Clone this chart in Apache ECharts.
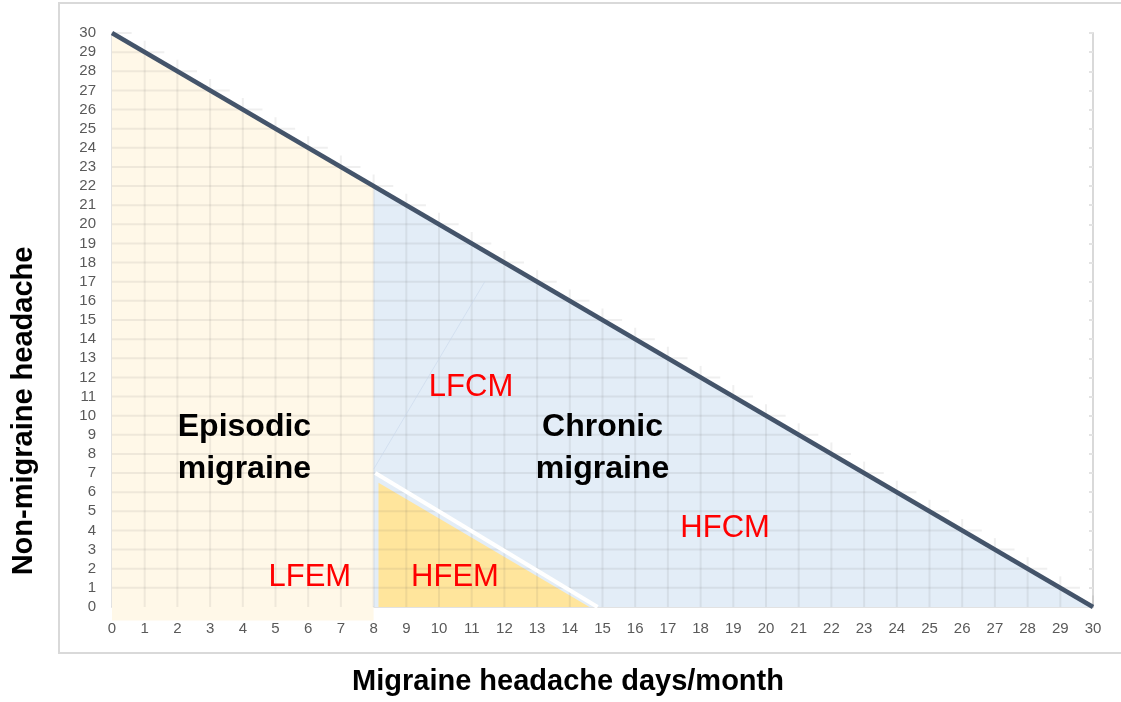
<!DOCTYPE html>
<html>
<head>
<meta charset="utf-8">
<script src="https://cdn.jsdelivr.net/npm/echarts@6/dist/echarts.min.js"></script>
<style>
html,body{margin:0;padding:0;background:#fff;}
#chart{width:1121px;height:702px;}
</style>
</head>
<body>
<div id="chart"></div>
<script>
// ---- data ----
const axisMin = 0;
const axisMax = 30;
const tickStep = 1;
const gridTicks = [0,1,2,3,4,5,6,7,8,9,10,11,12,13,14,15,16,17,18,19,20,21,22,23,24,25,26,27,28,29,30];
const totalDaysLine = [[0, 30], [30, 0]];
const episodicArea = [[0, -0.7], [0, 30], [8, 22], [8, -0.7]];
const chronicArea = [[8, 0], [8, 22], [30, 0]];
const hfemArea = [[8.15, 0], [8.15, 6.5], [14.6, 0]];
const hfemBoundary = [[8.05, 7.0], [14.85, 0]];
const faintDivider = [[8, 7.2], [11.4, 17]];
const regionNames = ['Episodic\nmigraine', 'Chronic\nmigraine'];
const regionPos = [[4.05, 8.3], [15.0, 8.3]];
const subNames = ['LFCM', 'HFCM', 'LFEM', 'HFEM'];
const subPos = [[10.98, 11.5], [18.75, 4.13], [6.05, 1.52], [10.49, 1.52]];
const xTitle = 'Migraine headache days/month';
const yTitle = 'Non-migraine headache';

// ---- helpers ----
function polygonSeries(points, color, z) {
  return {
    type: 'custom', z: z, silent: true, clip: false,
    data: [0],
    renderItem: function (params, api) {
      return {
        type: 'polygon',
        shape: { points: points.map(p => api.coord(p)) },
        style: { fill: color }
      };
    }
  };
}
function segmentSeries(points, color, width, z) {
  return {
    type: 'line', z: z, silent: true, data: points,
    symbol: 'none', lineStyle: { color: color, width: width }, clip: false
  };
}

const gridSeries = {
  type: 'custom', z: 3, silent: true, clip: false,
  data: gridTicks,
  renderItem: function (params, api) {
    const v = api.value(0);
    const reach = Math.min(axisMax, axisMax - v + 0.6);
    const style = { stroke: 'rgba(90,90,90,0.095)', lineWidth: 2 };
    const a = api.coord([v, 0]), b = api.coord([v, reach]);
    const c = api.coord([0, v]), d = api.coord([reach, v]);
    const children = [];
    if (v > 0) children.push({ type: 'line', shape: { x1: a[0], y1: a[1], x2: b[0], y2: b[1] }, style: style });
    if (v > 0) children.push({ type: 'line', shape: { x1: c[0], y1: c[1], x2: d[0], y2: d[1] }, style: style });
    return { type: 'group', children: children };
  }
};

const labelSeries = function (names, pos, style, z) {
  return {
    type: 'custom', z: z, silent: true, clip: false,
    data: pos.map((p, i) => [p[0], p[1], i]),
    renderItem: function (params, api) {
      const pt = api.coord([api.value(0), api.value(1)]);
      return {
        type: 'text', x: pt[0], y: pt[1],
        style: Object.assign({ text: names[api.value(2)], align: 'center', verticalAlign: 'middle' }, style)
      };
    }
  };
};

const chart = echarts.init(document.getElementById('chart'));
const font = '"Liberation Sans", Arial, sans-serif';
chart.setOption({
  animation: false,
  backgroundColor: '#ffffff',
  grid: { left: 112, right: 28, top: 33, bottom: 95 },
  xAxis: {
    type: 'value', min: axisMin, max: axisMax, interval: tickStep,
    axisLine: { show: true, lineStyle: { color: '#d9d9d9', width: 1.5 } },
    axisTick: { show: false },
    splitLine: { show: false },
    axisLabel: { color: '#595959', fontSize: 15, fontFamily: font, margin: 14 }
  },
  yAxis: [{
    type: 'value', min: axisMin, max: axisMax, interval: tickStep,
    axisLine: { show: true, lineStyle: { color: '#d9d9d9', width: 1.5 } },
    axisTick: { show: false },
    splitLine: { show: false },
    axisLabel: { color: '#595959', fontSize: 15, fontFamily: font, margin: 16 }
  }, {
    type: 'value', min: axisMin, max: axisMax, interval: tickStep, position: 'right',
    axisLine: { show: true, lineStyle: { color: '#d9d9d9', width: 2 } },
    axisTick: { show: true, inside: true, length: 4, lineStyle: { color: '#e3e3e3', width: 2 } },
    axisLabel: { show: false },
    splitLine: { show: false }
  }],
  graphic: [
    { type: 'rect', shape: { x: 59, y: 3, width: 1100, height: 650 },
      style: { fill: 'none', stroke: '#d9d9d9', lineWidth: 2 }, z: 0, silent: true },
    { type: 'text', x: 568, y: 682, style: { text: xTitle, font: 'bold 29px ' + font, fill: '#000', align: 'center', verticalAlign: 'middle' } },
    { type: 'text', x: 24, y: 411, rotation: Math.PI / 2, style: { text: yTitle, font: 'bold 29px ' + font, fill: '#000', align: 'center', verticalAlign: 'middle' } }
  ],
  series: [
    polygonSeries(episodicArea, '#FFF8E8', 1),
    polygonSeries(chronicArea, '#E3EDF7', 1),
    polygonSeries(hfemArea, '#FFE59C', 2),
    gridSeries,
    segmentSeries(faintDivider, 'rgba(200,215,235,0.6)', 1, 4),
    segmentSeries(hfemBoundary, '#ffffff', 4, 5),
    segmentSeries(totalDaysLine, '#44546A', 4.5, 6),
    labelSeries(regionNames, regionPos, { font: 'bold 32px ' + font, fill: '#000', lineHeight: 42 }, 7),
    labelSeries(subNames, subPos, { font: '31px ' + font, fill: '#FF0000' }, 7)
  ]
});
</script>
</body>
</html>
